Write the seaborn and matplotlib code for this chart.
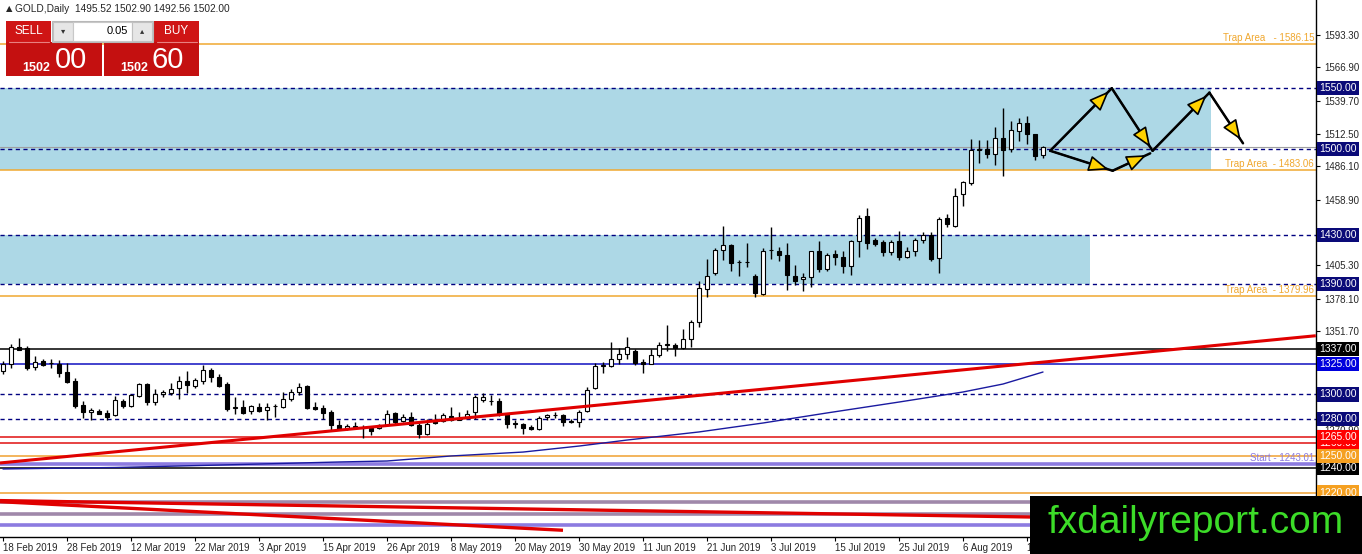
import matplotlib
matplotlib.use("Agg")
import matplotlib.pyplot as plt
import matplotlib.patches as mpatches
import matplotlib.transforms as mtransforms
import numpy as np
import seaborn as sns

# ---- data ----
date_labels = ["18 Feb 2019", "28 Feb 2019", "12 Mar 2019", "22 Mar 2019", "3 Apr 2019",
               "15 Apr 2019", "26 Apr 2019", "8 May 2019", "20 May 2019", "30 May 2019",
               "11 Jun 2019", "21 Jun 2019", "3 Jul 2019", "15 Jul 2019", "25 Jul 2019",
               "6 Aug 2019", "16 Aug 2019"]

opens = [1319.2, 1324.6, 1338.8, 1337.7, 1322.4, 1327.3, 1325.7, 1324.6, 1318.1, 1311.0,
         1291.4, 1285.4, 1286.5, 1285.1, 1282.9, 1294.6, 1290.5, 1298.7, 1308.3, 1294.1,
         1300.1, 1301.4, 1305.0, 1311.0, 1306.9, 1311.0, 1319.7, 1314.3, 1308.3, 1289.2,
         1290.0, 1286.5, 1290.0, 1287.6, 1290.5, 1289.7, 1296.0, 1302.0, 1306.9, 1289.7,
         1288.6, 1285.9, 1275.0, 1272.3, 1274.2, 1272.3, 1272.3, 1272.8, 1275.0, 1284.8,
         1278.3, 1281.5, 1275.0, 1267.9, 1278.8, 1278.3, 1282.4, 1279.4, 1281.5, 1285.9,
         1295.2, 1294.7, 1294.7, 1283.7, 1276.1, 1275.6, 1273.7, 1271.5, 1281.6, 1283.2,
         1283.2, 1278.3, 1277.8, 1286.5, 1305.5, 1323.3, 1323.3, 1328.7, 1333.4, 1335.6,
         1326.5, 1325.2, 1332.0, 1340.5, 1340.5, 1337.7, 1345.1, 1358.7, 1386.0, 1398.8,
         1417.9, 1422.3, 1408.0, 1407.8, 1396.9, 1381.9, 1417.9, 1417.4, 1414.1, 1396.9,
         1394.2, 1396.1, 1417.4, 1402.4, 1414.7, 1412.5, 1405.1, 1425.0, 1445.2, 1426.1,
         1424.2, 1416.0, 1425.0, 1412.5, 1417.4, 1425.6, 1429.7, 1411.4, 1444.1, 1437.8,
         1463.7, 1472.4, 1499.7, 1500.5, 1495.9, 1509.5, 1500.5, 1514.9, 1521.5, 1512.2,
         1495.52]
highs = [1327.0, 1341.0, 1345.9, 1339.6, 1331.4, 1328.7, 1328.7, 1327.9, 1325.4, 1313.7,
         1294.6, 1288.6, 1287.8, 1287.0, 1298.7, 1296.0, 1300.6, 1309.6, 1309.6, 1304.2,
         1303.4, 1309.6, 1315.1, 1319.2, 1313.7, 1323.8, 1321.4, 1317.0, 1310.5, 1297.9,
         1295.5, 1291.4, 1293.3, 1293.3, 1291.9, 1302.0, 1304.2, 1309.6, 1307.7, 1294.1,
         1291.4, 1287.0, 1279.1, 1276.0, 1277.8, 1275.0, 1274.2, 1276.1, 1287.0, 1285.9,
         1283.7, 1285.9, 1276.9, 1280.2, 1283.7, 1284.6, 1290.0, 1286.0, 1287.0, 1299.6,
         1301.5, 1299.6, 1297.4, 1285.1, 1278.8, 1276.9, 1275.0, 1282.4, 1283.7, 1285.9,
         1284.3, 1279.6, 1287.0, 1306.1, 1326.0, 1326.8, 1342.4, 1337.7, 1347.0, 1336.9,
         1328.7, 1336.9, 1342.4, 1356.8, 1341.6, 1353.3, 1360.6, 1392.3, 1410.5, 1419.5,
         1437.8, 1422.8, 1409.7, 1423.3, 1398.3, 1419.5, 1436.4, 1420.6, 1423.3, 1405.9,
         1398.8, 1417.4, 1425.0, 1415.2, 1417.9, 1417.4, 1426.1, 1446.8, 1452.3, 1427.8,
         1426.1, 1426.1, 1433.2, 1420.1, 1427.8, 1432.4, 1432.4, 1444.6, 1447.4, 1468.6,
         1474.0, 1508.7, 1507.9, 1507.3, 1518.3, 1534.0, 1523.1, 1525.9, 1526.9, 1512.8,
         1502.90]
lows = [1317.0, 1321.4, 1336.0, 1319.7, 1319.7, 1323.0, 1321.9, 1314.3, 1309.6, 1288.6,
        1280.5, 1278.8, 1283.7, 1278.8, 1282.5, 1288.6, 1289.7, 1297.9, 1291.4, 1291.4,
        1297.9, 1299.5, 1296.5, 1301.4, 1305.5, 1308.8, 1310.5, 1306.1, 1286.5, 1284.3,
        1284.3, 1283.7, 1285.6, 1278.8, 1281.5, 1289.2, 1294.6, 1299.5, 1287.8, 1287.5,
        1279.6, 1270.6, 1270.6, 1270.6, 1271.5, 1264.1, 1266.8, 1271.5, 1274.2, 1276.1,
        1277.8, 1274.2, 1264.1, 1266.8, 1275.6, 1277.8, 1278.3, 1278.8, 1281.0, 1279.6,
        1294.1, 1291.4, 1282.4, 1272.8, 1272.3, 1267.4, 1270.7, 1270.7, 1278.8, 1281.0,
        1274.2, 1276.9, 1273.4, 1285.9, 1304.2, 1317.8, 1322.4, 1325.2, 1328.7, 1324.1,
        1317.8, 1324.6, 1330.6, 1335.6, 1331.5, 1336.9, 1338.8, 1355.2, 1379.7, 1397.7,
        1409.7, 1400.4, 1396.9, 1403.7, 1379.7, 1381.4, 1410.5, 1408.6, 1385.2, 1389.5,
        1384.6, 1387.9, 1399.7, 1401.0, 1405.9, 1398.9, 1397.8, 1412.5, 1418.8, 1420.7,
        1413.3, 1414.1, 1409.8, 1411.4, 1413.3, 1423.4, 1408.7, 1398.9, 1436.5, 1436.4,
        1454.1, 1470.5, 1488.8, 1493.1, 1486.9, 1477.9, 1497.8, 1506.8, 1504.0, 1491.5,
        1492.56]
closes = [1325.2, 1338.8, 1336.6, 1321.9, 1326.8, 1324.1, 1325.9, 1317.8, 1309.8, 1290.5,
          1285.6, 1287.3, 1284.3, 1281.5, 1295.5, 1290.5, 1299.5, 1308.3, 1294.1, 1300.6,
          1302.0, 1304.7, 1311.0, 1307.4, 1311.5, 1319.7, 1314.3, 1306.9, 1288.4, 1289.5,
          1285.1, 1290.5, 1286.5, 1289.7, 1290.8, 1296.0, 1302.0, 1306.1, 1288.6, 1288.1,
          1284.5, 1275.0, 1272.0, 1274.2, 1272.8, 1272.5, 1270.1, 1275.0, 1284.3, 1277.8,
          1281.5, 1275.0, 1267.9, 1276.1, 1276.4, 1283.2, 1278.8, 1281.0, 1284.3, 1298.2,
          1297.9, 1294.4, 1283.7, 1275.6, 1276.0, 1272.3, 1271.5, 1281.0, 1283.2, 1283.4,
          1277.8, 1277.5, 1285.9, 1303.4, 1323.3, 1323.5, 1328.7, 1333.4, 1338.3, 1326.0,
          1325.2, 1332.0, 1340.2, 1340.7, 1337.7, 1345.1, 1358.7, 1386.8, 1396.9, 1417.9,
          1422.3, 1407.0, 1407.8, 1408.0, 1382.4, 1416.8, 1418.2, 1413.8, 1397.5, 1392.8,
          1396.1, 1416.8, 1402.4, 1414.1, 1411.9, 1405.1, 1425.0, 1444.1, 1423.4, 1422.9,
          1416.0, 1424.2, 1412.5, 1417.4, 1425.6, 1429.7, 1410.6, 1443.3, 1438.7, 1462.3,
          1473.2, 1499.7, 1499.9, 1495.9, 1509.5, 1499.7, 1515.5, 1521.5, 1512.2, 1494.2,
          1502.00]

# moving average, read at a few bars
ma_bars = [0, 14, 27, 42, 48, 56, 65, 72, 78, 87, 95, 103, 112, 120, 125, 130]
ma_vals = [1239.2, 1240.4, 1242.4, 1244.9, 1245.7, 1249.8, 1253.0, 1257.9, 1262.8,
           1269.4, 1276.7, 1284.9, 1293.8, 1302.0, 1308.5, 1318.3]

dashed_levels = [1550.0, 1500.0, 1430.0, 1390.0, 1300.0, 1280.0]
solid_levels = [1337.0, 1325.0, 1265.0, 1260.0, 1250.0, 1240.0, 1220.0]
solid_colors = ["black", "#1010c0", "#e01010", "#e01010", "#f0a030", "black", "#f0a030"]
trap_levels = [1586.15, 1483.06, 1379.96]
start_level = 1243.01
bid_price = 1502.00

zones = [(1483.06, 1550.0, 151.0), (1390.0, 1430.0, 135.9)]  # (low, high, right bar)

# trend lines: (bar0, price0, bar1, price1)
trend_main = (-0.375, 1244.1, 164.1, 1347.9)
trend_low1 = (-0.375, 1213.4, 164.1, 1196.3)
trend_low2 = (-0.375, 1212.5, 70.0, 1189.2)
flat_low = [1212.5, 1202.5]
flat_low_start = 1193.2

# projected path arrows
arrow_segments = [((130.9, 1498.8), (138.6, 1549.8)),
                  ((138.6, 1549.8), (143.7, 1498.8)),
                  ((143.7, 1498.8), (150.8, 1546.2)),
                  ((150.8, 1546.2), (155.0, 1504.9)),
                  ((130.9, 1498.8), (138.7, 1482.5)),
                  ((138.7, 1482.5), (143.4, 1496.7))]

y_ticks = [1593.30, 1566.90, 1539.70, 1512.50, 1486.10, 1458.90, 1432.50, 1405.30,
           1378.10, 1351.70, 1324.50, 1297.30, 1270.90, 1243.70, 1216.50]
hidden_ticks = [1432.50, 1324.50, 1297.30, 1243.70, 1216.50]  # covered by price tags

# drawn in this order, later tags on top
price_tags = [(1550.0, "#0a0a78"), (1500.0, "#0a0a78"), (1430.0, "#0a0a78"),
              (1390.0, "#0a0a78"), (1337.0, "black"), (1325.0, "#0000dd"),
              (1300.0, "#0a0a78"), (1280.0, "#0a0a78"), (1260.0, "#ff0000"),
              (1265.0, "#ff0000"), (1240.0, "black"), (1250.0, "#f5a020"),
              (1220.0, "#f5a020")]

# ---- figure ----
sns.set_style("white")
plt.rcParams["font.family"] = ["Liberation Sans", "DejaVu Sans"]

W, H = 1362, 554
fig = plt.figure(figsize=(W / 100, H / 100), dpi=100)
ax = fig.add_axes([0, 17 / H, 1316 / W, 537 / H])
ax.set_xlim(-0.375, 164.125)
ax.set_ylim(1183.7, 1621.8)

# zones
for lo, hi, right in zones:
    ax.add_patch(mpatches.Rectangle((-0.375, lo), right + 0.375, hi - lo,
                                    facecolor="#add8e6", edgecolor="none", zorder=0.5))

# horizontal levels
for lv in dashed_levels:
    ax.axhline(lv, color="#000080", lw=1, ls=(0, (3, 2.5)), zorder=1)
for lv, c in zip(solid_levels, solid_colors):
    ax.axhline(lv, color=c, lw=1.1, zorder=1)
for lv in trap_levels:
    ax.axhline(lv, color="#f0a830", lw=1.1, zorder=1)
    ax.text(163.9, lv + 0.9, f"Trap Area {'  ' if lv > 1550 else ' '}- {lv:.2f}",
            ha="right", va="bottom", color="#f0a830", fontsize=7, zorder=2)
ax.axhline(start_level, color="#8c7be0", lw=2.6, zorder=1)
ax.text(163.9, start_level + 0.9, f"Start - {start_level:.2f}", ha="right", va="bottom",
        color="#8c7be0", fontsize=7, zorder=2)
ax.axhline(bid_price, color="#a0a0a0", lw=0.8, zorder=1)

# lower area lines
for lv in flat_low:
    ax.axhline(lv, color="#a088aa", lw=2.6, zorder=1)
ax.axhline(flat_low_start, color="#8c7be0", lw=2.6, zorder=1)
for b0, p0, b1, p1 in (trend_low1, trend_low2):
    ax.plot([b0, b1], [p0, p1], color="#e00000", lw=2.4, zorder=1.5, solid_capstyle="butt")

# moving average
sns.lineplot(x=ma_bars, y=ma_vals, ax=ax, color="#1a1aa0", lw=1, zorder=2)

# candles
o = np.array(opens); h = np.array(highs); l = np.array(lows); c = np.array(closes)
idx = np.arange(len(o))
ax.vlines(idx, l, h, color="black", lw=1, zorder=3)
bull = c >= o
body = np.maximum(np.abs(c - o), 0.35)
ax.bar(idx, body, bottom=np.minimum(o, c), width=0.62,
       color=np.where(bull, "white", "black"), edgecolor="black", lw=0.8, zorder=3.5)

# main trend line
b0, p0, b1, p1 = trend_main
ax.plot([b0, b1], [p0, p1], color="#e00000", lw=2.2, zorder=4, solid_capstyle="butt")

# arrows: black path to each vertex, yellow head just short of it
for (xa, ya), (xb, yb) in arrow_segments:
    ax.plot([xa, xb], [ya, yb], color="black", lw=1.8, zorder=5, solid_capstyle="round")
    ax.annotate("", xy=(xb, yb), xytext=(xa, ya),
                arrowprops=dict(arrowstyle="-|>,head_length=0.95,head_width=0.38",
                                mutation_scale=13, fc="#ffd200", ec="black", lw=1.2,
                                shrinkA=0, shrinkB=3), zorder=5.5)

# axes styling
for s in ["top", "left"]:
    ax.spines[s].set_visible(False)
for s in ["right", "bottom"]:
    ax.spines[s].set_color("black")
    ax.spines[s].set_linewidth(1)
ax.yaxis.tick_right()
ax.set_yticks(y_ticks)
ax.set_yticklabels(["" if v in hidden_ticks else f"{v:.2f}" for v in y_ticks])
ax.set_xticks(np.arange(0, 8 * len(date_labels), 8))
ax.set_xticklabels(date_labels, ha="left")
ax.tick_params(axis="y", labelsize=7, length=3, pad=3, color="black", direction="out", right=True)
ax.tick_params(axis="x", labelsize=7, length=3, pad=1, color="black", direction="out", bottom=True)
ax.set_xlabel("")
ax.set_ylabel("")

trans = mtransforms.blended_transform_factory(ax.transAxes, ax.transData)
for lv, col in price_tags:
    ax.text(1.0025, lv, f"{lv:.2f}", transform=trans, ha="left", va="center",
            fontsize=7.5, color="white", zorder=6,
            bbox=dict(boxstyle="square,pad=0.2", fc=col, ec="none"))


# ---- header and trading panel (figure pixel layout) ----
def fx(x):
    return x / W


def fy(y):
    return 1 - y / H


def box(x0, y0, x1, y1, fc, ec="none", lw=0.8):
    fig.add_artist(mpatches.Rectangle((fx(x0), fy(y1)), fx(x1) - fx(x0), fy(y0) - fy(y1),
                                      transform=fig.transFigure, facecolor=fc,
                                      edgecolor=ec, lw=lw, zorder=10))


fig.text(fx(6), fy(9), "▲", fontsize=6, va="center", ha="left", family="DejaVu Sans", zorder=11)
fig.text(fx(15), fy(9), "GOLD,Daily  1495.52 1502.90 1492.56 1502.00",
         fontsize=7.3, va="center", ha="left", zorder=11)

red = "#cf1515"
box(6, 21, 51, 42, red)
box(6, 42, 102, 76, "#c41010")
box(154, 21, 199, 42, red)
box(104, 42, 199, 76, "#c41010")
box(52, 21, 153, 42, "#f4f4f4", ec="#b8b8b8")
box(53, 22, 73, 41, "#e6e6e6", ec="#c0c0c0")
box(73, 22, 132, 41, "white", ec="#c8c8c8")
box(132, 22, 152, 41, "#e6e6e6", ec="#c0c0c0")
fig.add_artist(plt.Line2D([fx(9), fx(49)], [fy(42), fy(42)], color="#e88080", lw=0.8,
                          transform=fig.transFigure, zorder=11))
fig.add_artist(plt.Line2D([fx(157), fx(197)], [fy(42), fy(42)], color="#e88080", lw=0.8,
                          transform=fig.transFigure, zorder=11))

fig.text(fx(28.5), fy(31), "SELL", color="white", fontsize=8.5, ha="center", va="center", zorder=11)
fig.text(fx(176.5), fy(31), "BUY", color="white", fontsize=8.5, ha="center", va="center", zorder=11)
fig.text(fx(128), fy(31), "0.05", color="black", fontsize=8, ha="right", va="center", zorder=11)
fig.text(fx(63), fy(31), "▾", color="#333333", fontsize=6, ha="center", va="center",
         family="DejaVu Sans", zorder=11)
fig.text(fx(142), fy(31), "▴", color="#333333", fontsize=6, ha="center", va="center",
         family="DejaVu Sans", zorder=11)
fig.text(fx(36.5), fy(71), "1502", color="white", fontsize=9, weight="bold",
         ha="center", va="baseline", zorder=11)
fig.text(fx(71), fy(68.5), "00", color="white", fontsize=21, ha="center", va="baseline", zorder=11)
fig.text(fx(134), fy(71), "1502", color="white", fontsize=9, weight="bold",
         ha="center", va="baseline", zorder=11)
fig.text(fx(168), fy(68.5), "60", color="white", fontsize=21, ha="center", va="baseline", zorder=11)

# watermark
box(1030, 496, 1362, 554, "black")
fig.text(fx(1196), fy(523), "fxdailyreport.com", color="#3cdc28", fontsize=28,
         ha="center", va="center", zorder=11)

fig.savefig("out.png", dpi=100, facecolor="white")
